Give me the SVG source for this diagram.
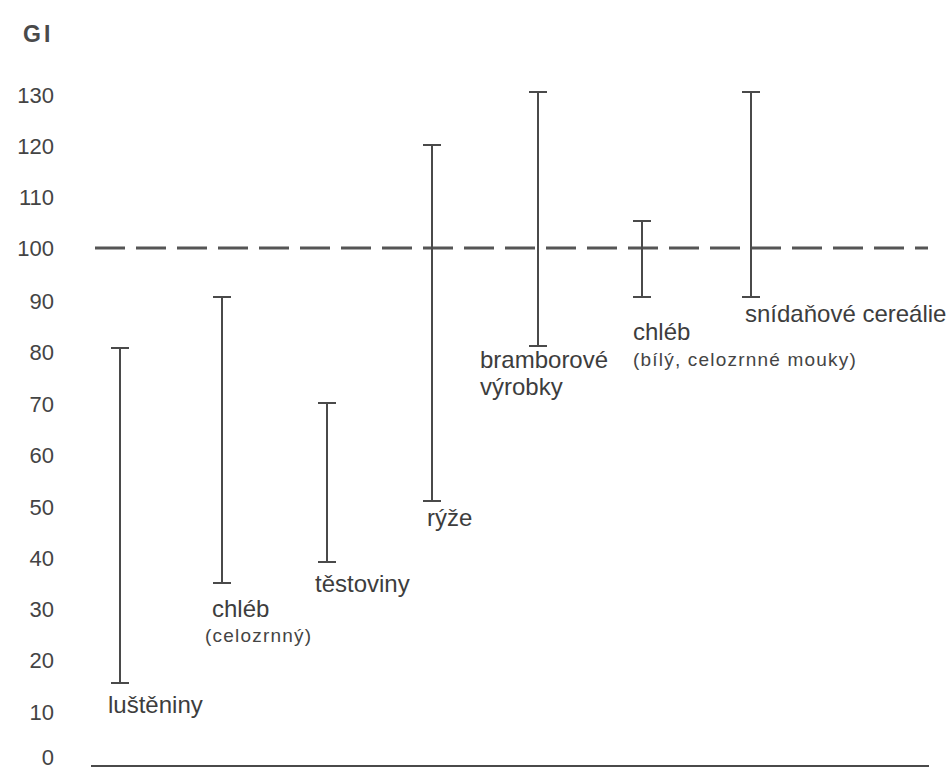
<svg xmlns="http://www.w3.org/2000/svg" width="950" height="771" viewBox="0 0 950 771">
  <style>
    .ax { font-family: "Liberation Sans", Arial, sans-serif; font-size: 22px; fill: #444; text-anchor: end; }
    .ttl { font-family: "Liberation Sans", Arial, sans-serif; font-size: 23px; font-weight: bold; fill: #4a4a4a; letter-spacing: 3px; }
    .lbl { font-family: "Liberation Sans", Arial, sans-serif; font-size: 24px; fill: #3d3d3d; }
    .sub { font-family: "Liberation Sans", Arial, sans-serif; font-size: 19px; fill: #444; letter-spacing: 1.2px; }
    .bar { stroke: #4a4a4a; stroke-width: 2; fill: none; }
    .base { stroke: #4a4a4a; stroke-width: 2; }
    .ref { stroke: #555; stroke-width: 3; stroke-dasharray: 30 11; }
  </style>
  <rect width="950" height="771" fill="#ffffff"/>

  <!-- axis title and scale -->
  <g id="axis">
    <text class="ttl" x="23" y="42">GI</text>
    <text class="ax" x="54" y="103">130</text>
    <text class="ax" x="54" y="154">120</text>
    <text class="ax" x="54" y="205">110</text>
    <text class="ax" x="54" y="256">100</text>
    <text class="ax" x="54" y="309">90</text>
    <text class="ax" x="54" y="360">80</text>
    <text class="ax" x="54" y="412">70</text>
    <text class="ax" x="54" y="463">60</text>
    <text class="ax" x="54" y="515">50</text>
    <text class="ax" x="54" y="566">40</text>
    <text class="ax" x="54" y="617">30</text>
    <text class="ax" x="54" y="668">20</text>
    <text class="ax" x="54" y="720">10</text>
    <text class="ax" x="54" y="765">0</text>
  </g>

  <!-- baseline and GI 100 reference -->
  <g id="connectors">
    <line class="base" x1="91" y1="766" x2="929" y2="766"/>
    <line class="ref" x1="95" y1="248" x2="928" y2="248"/>
  </g>

  <!-- ranges -->
  <g id="lusteniny">
    <path class="bar" d="M120 348V683M111 348H129M111 683H129"/>
    <text class="lbl" x="108" y="713">luštěniny</text>
  </g>
  <g id="chleb-celozrnny">
    <path class="bar" d="M222 297V583M213 297H231M213 583H231"/>
    <text class="lbl" x="212" y="617">chléb</text>
    <text class="sub" x="205" y="642">(celozrnný)</text>
  </g>
  <g id="testoviny">
    <path class="bar" d="M327 403V562M318 403H336M318 562H336"/>
    <text class="lbl" x="315" y="592">těstoviny</text>
  </g>
  <g id="ryze">
    <path class="bar" d="M432 145V501M423 145H441M423 501H441"/>
    <text class="lbl" x="427" y="526">rýže</text>
  </g>
  <g id="bramborove">
    <path class="bar" d="M538 92V346M529 92H547M529 346H547"/>
    <text class="lbl" x="480" y="368">bramborové</text>
    <text class="lbl" x="480" y="395">výrobky</text>
  </g>
  <g id="chleb-bily">
    <path class="bar" d="M642 221V297M633 221H651M633 297H651"/>
    <text class="lbl" x="633" y="340">chléb</text>
    <text class="sub" x="633" y="366">(bílý, celozrnné mouky)</text>
  </g>
  <g id="cerealie">
    <path class="bar" d="M751 92V297M742 92H760M742 297H760"/>
    <text class="lbl" x="745" y="322">snídaňové cereálie</text>
  </g>
</svg>
